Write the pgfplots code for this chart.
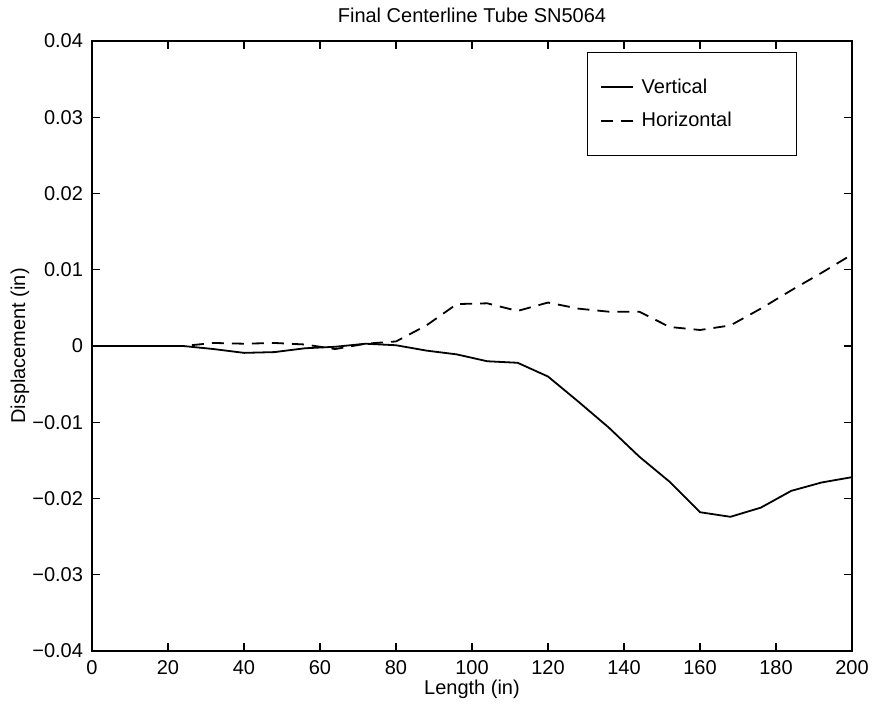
\documentclass[border=0pt]{standalone}
\usepackage{pgfplots}
\pgfplotsset{compat=1.18}
\usepackage{fontspec}
\setmainfont{Liberation Sans}
\begin{document}
\begin{tikzpicture}
\begin{axis}[
  scale only axis,
  width=380pt, height=305pt,
  xmin=0, xmax=200, ymin=-0.04, ymax=0.04,
  scaled y ticks=false,
  xtick={0,20,...,200},
  ytick={-0.04,-0.03,-0.02,-0.01,0,0.01,0.02,0.03,0.04},
  yticklabels={−0.04,−0.03,−0.02,−0.01,0,0.01,0.02,0.03,0.04},
  /pgf/number format/assume math mode=true,
  tick align=inside,
  major tick length=4pt,
  axis line style={line width=0.7pt},
  every tick/.style={line width=0.6pt, black},
  tick label style={font=\fontsize{10}{12}\selectfont},
  xticklabel style={yshift=-1pt},
  yticklabel style={xshift=-1pt},
  title={Final Centerline Tube SN5064},
  every axis title/.style={at={(axis description cs:0.5,1)}, anchor=center, yshift=13pt, font=\fontsize{10}{12}\selectfont},
  xlabel={Length (in)},
  ylabel={Displacement (in)},
  every axis x label/.style={at={(axis description cs:0.5,0)}, anchor=center, yshift=-19pt, font=\fontsize{10}{12}\selectfont},
  every axis y label/.style={at={(axis description cs:-0.0947,0.5)}, anchor=center, rotate=90, font=\fontsize{10}{12}\selectfont},
  legend image code/.code={\draw[#1] (0pt,0pt) -- (16pt,0pt);},
  legend cell align=left,
  legend style={at={(axis description cs:0.928,0.982)}, anchor=north east,
    draw=black, line width=0.6pt, inner xsep=6pt, inner ysep=11pt, row sep=4pt,
    font=\fontsize{10}{12}\selectfont},
]
\addplot[black, line width=0.9pt] coordinates {
(0,0) (8,0) (16,0) (24,0) (32,-0.0004) (40,-0.0009) (48,-0.0008) (56,-0.0003)
(64,-0.0001) (72,0.0003) (80,0.0001) (88,-0.0006) (96,-0.0011) (104,-0.0020)
(112,-0.0022) (120,-0.0040) (128,-0.0073) (136,-0.0107) (144,-0.0145)
(152,-0.0178) (160,-0.0218) (168,-0.0224) (176,-0.0212) (184,-0.0190)
(192,-0.0179) (200,-0.0172)
};
\addlegendentry{\makebox[71.5pt][l]{\hspace*{2pt}Vertical}}
\addplot[black, line width=0.9pt, dash pattern=on 6pt off 4pt] coordinates {
(0,0) (8,0) (16,0) (24,0) (32,0.0004) (40,0.0003) (48,0.0004) (56,0.0002)
(64,-0.0004) (72,0.0003) (80,0.0006) (88,0.0027) (96,0.0055) (104,0.0056)
(112,0.0046) (120,0.0057) (128,0.0049) (136,0.0045) (144,0.0045) (152,0.0025)
(160,0.0021) (168,0.0027) (176,0.0049) (184,0.0073) (192,0.0096) (200,0.0120)
};
\addlegendentry{\makebox[71.5pt][l]{\hspace*{2pt}Horizontal}}
\end{axis}
\pgfresetboundingbox
\path[use as bounding box] ([shift={(-46pt,-28.5pt)}]current axis.south west) rectangle ([shift={(391pt,325.5pt)}]current axis.south west);
\end{tikzpicture}
\end{document}
